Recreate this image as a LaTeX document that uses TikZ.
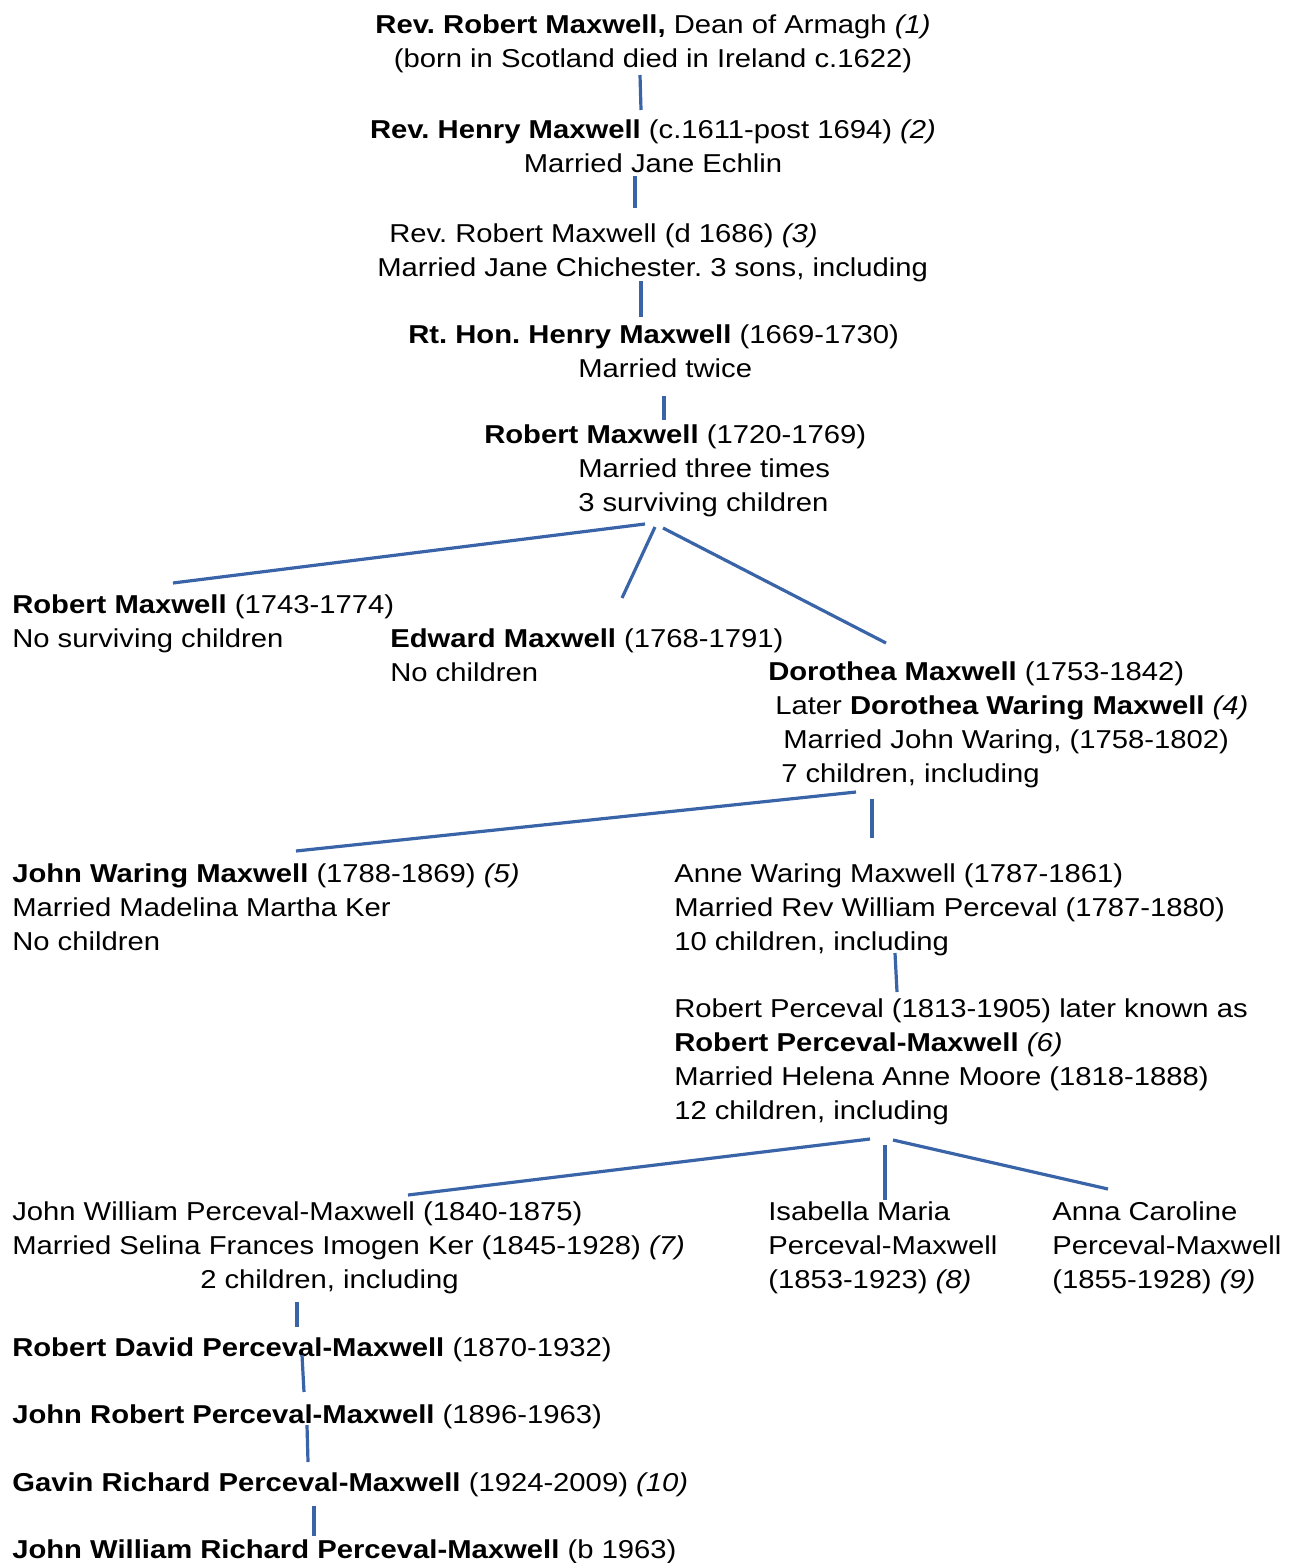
\documentclass[tikz,border=0pt]{standalone}
\usepackage{fontspec}
\setmainfont[FakeStretch=1.13]{Liberation Sans}
\frenchspacing
\newlength\pxu
\setlength\pxu{0.75pt}
\newcommand\ind[1]{\hspace*{#1\pxu}}
\newcommand\note[1]{\textit{#1}}
\definecolor{linkblue}{HTML}{3A64A8}
\begin{document}
\begin{tikzpicture}[x=0.75pt, y=-0.75pt,
    every node/.style={inner sep=0pt, font=\fontsize{19.4}{25.3}\selectfont},
    person/.style={anchor=base west, align=left},
    centred/.style={anchor=base, align=center},
    link/.style={draw=linkblue, line width=2.4pt}]
    \useasboundingbox (0,0) rectangle (1293,1563);

    % Early generations (nodes sit on the baseline of their last line)
    \node[centred] (dean) at (653,67) {\textbf{Rev. Robert Maxwell,} Dean of Armagh \note{(1)}\\(born in Scotland died in Ireland c.1622)};
    \node[centred] (henry) at (653,172) {\textbf{Rev. Henry Maxwell} (c.1611-post 1694) \note{(2)}\\Married Jane Echlin};
    \node[person] (robert_d) at (377,276) {\ind{12}Rev. Robert Maxwell (d 1686) \note{(3)}\\Married Jane Chichester. 3 sons, including};
    \node[person] (henry_rt) at (408,377) {\textbf{Rt. Hon. Henry Maxwell} (1669-1730)\\\ind{170}Married twice};
    \node[person] (robert_a) at (484,511) {\textbf{Robert Maxwell} (1720-1769)\\\ind{94}Married three times\\\ind{94}3 surviving children};

    % Children of Robert Maxwell
    \node[person] (robert_b) at (12,647) {\textbf{Robert Maxwell} (1743-1774)\\No surviving children};
    \node[person] (edward) at (390,681) {\textbf{Edward Maxwell} (1768-1791)\\No children};
    \node[person] (dorothea) at (768,782) {\textbf{Dorothea Maxwell} (1753-1842)\\\ind{7}Later \textbf{Dorothea Waring Maxwell} \note{(4)}\\\ind{15}Married John Waring, (1758-1802)\\\ind{13}7 children, including};

    % Children of Dorothea
    \node[person] (john_w) at (12,950) {\textbf{John Waring Maxwell} (1788-1869) \note{(5)}\\Married Madelina Martha Ker\\No children};
    \node[person] (anne) at (674,950) {Anne Waring Maxwell (1787-1861)\\Married Rev William Perceval (1787-1880)\\10 children, including};
    \node[person] (robert_p) at (674,1119) {Robert Perceval (1813-1905) later known as\\\textbf{Robert Perceval-Maxwell} \note{(6)}\\Married Helena Anne Moore (1818-1888)\\12 children, including};

    % Children of Robert Perceval-Maxwell
    \node[person] (john_wp) at (12,1288) {John William Perceval-Maxwell (1840-1875)\\Married Selina Frances Imogen Ker (1845-1928) \note{(7)}\\\ind{188}2 children, including};
    \node[person] (isabella) at (768,1288) {Isabella Maria\\Perceval-Maxwell\\(1853-1923) \note{(8)}};
    \node[person] (anna) at (1052,1288) {Anna Caroline\\Perceval-Maxwell\\(1855-1928) \note{(9)}};

    % Later generations
    \node[person] (robert_dp) at (12,1356) {\textbf{Robert David Perceval-Maxwell} (1870-1932)};
    \node[person] (john_rp) at (12,1423) {\textbf{John Robert Perceval-Maxwell} (1896-1963)};
    \node[person] (gavin) at (12,1491) {\textbf{Gavin Richard Perceval-Maxwell} (1924-2009) \note{(10)}};
    \node[person] (john_wrp) at (12,1558) {\textbf{John William Richard Perceval-Maxwell} (b 1963)};

    % Connector ends
    \coordinate (dean_b) at (640,75);     \coordinate (henry_t) at (641,110);
    \coordinate (henry_b) at (635,176);   \coordinate (robert_d_t) at (635,208);
    \coordinate (robert_d_b) at (641,281);\coordinate (henry_rt_t) at (641,317);
    \coordinate (henry_rt_b) at (664,396);\coordinate (robert_a_t) at (664,420);
    \coordinate (robert_a_l) at (645,524);\coordinate (robert_b_t) at (173,583);
    \coordinate (robert_a_m) at (655,527);\coordinate (edward_t) at (622,598);
    \coordinate (robert_a_r) at (663,528);\coordinate (dorothea_t) at (886,643);
    \coordinate (dorothea_l) at (856,792);\coordinate (john_w_t) at (296,851);
    \coordinate (dorothea_r) at (872,799);\coordinate (anne_t) at (872,838);
    \coordinate (anne_b) at (895,953);    \coordinate (robert_p_t) at (897,992);
    \coordinate (robert_p_l) at (870,1139);\coordinate (john_wp_t) at (408,1195);
    \coordinate (robert_p_m) at (885,1145);\coordinate (isabella_t) at (885,1200);
    \coordinate (robert_p_r) at (893,1140);\coordinate (anna_t) at (1108,1189);
    \coordinate (john_wp_b) at (297,1302);\coordinate (robert_dp_t) at (297,1327);
    \coordinate (robert_dp_b) at (302,1355);\coordinate (john_rp_t) at (304,1392);
    \coordinate (john_rp_b) at (307,1425);\coordinate (gavin_t) at (308,1462);
    \coordinate (gavin_b) at (314,1506);  \coordinate (john_wrp_t) at (314,1536);

    % Connections
    \draw[link] (dean_b) -- (henry_t);
    \draw[link] (henry_b) -- (robert_d_t);
    \draw[link] (robert_d_b) -- (henry_rt_t);
    \draw[link] (henry_rt_b) -- (robert_a_t);
    \draw[link] (robert_a_l) -- (robert_b_t);
    \draw[link] (robert_a_m) -- (edward_t);
    \draw[link] (robert_a_r) -- (dorothea_t);
    \draw[link] (dorothea_l) -- (john_w_t);
    \draw[link] (dorothea_r) -- (anne_t);
    \draw[link] (anne_b) -- (robert_p_t);
    \draw[link] (robert_p_l) -- (john_wp_t);
    \draw[link] (robert_p_m) -- (isabella_t);
    \draw[link] (robert_p_r) -- (anna_t);
    \draw[link] (john_wp_b) -- (robert_dp_t);
    \draw[link] (robert_dp_b) -- (john_rp_t);
    \draw[link] (john_rp_b) -- (gavin_t);
    \draw[link] (gavin_b) -- (john_wrp_t);
\end{tikzpicture}
\end{document}
